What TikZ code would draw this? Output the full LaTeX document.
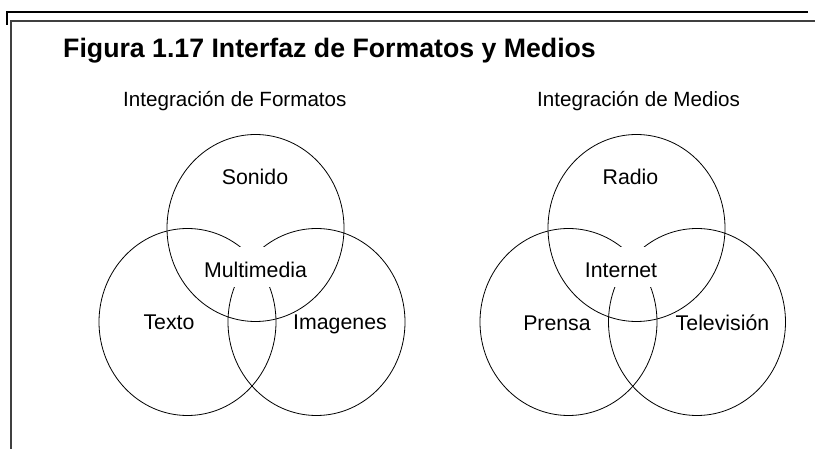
\documentclass[tikz,border=0pt]{standalone}
\usepackage{fontspec}
\setmainfont{Liberation Sans}
\usetikzlibrary{shapes.geometric}
\begin{document}
\begin{tikzpicture}[x=1pt,y=-1pt,
  venn/.style={draw=black,line width=0.8pt,ellipse,minimum width=177pt,minimum height=187pt,inner sep=0pt},
  lbl/.style={inner sep=0pt,anchor=base,font=\fontsize{21.3}{25}\selectfont},
  boxlbl/.style={lbl,fill=white,text height=31pt,text depth=9pt,inner xsep=10pt},
  sub/.style={inner sep=0pt,anchor=base west,font=\fontsize{20.6}{24}\selectfont},
  frameA/.style={line width=2pt,black},
  frameB/.style={line width=2pt,black!75}]
\useasboundingbox (0,0) rectangle (815,449);
% frame
\draw[frameA] (7,25) -- (7,12) -- (808,12);
\draw[frameB] (815,21) -- (11,21) -- (11,449);
% title
\node[inner sep=0pt,anchor=base west,font=\fontsize{26.7}{30}\selectfont\bfseries] (title) at (63,58) {Figura 1.17 Interfaz de Formatos y Medios};
\node[sub] (subA) at (123,107) {Integración de Formatos};
\node[sub] (subB) at (537,107) {Integración de Medios};
% left venn
\node[venn] (cS) at (255.5,228) {};
\node[venn] (cT) at (187.5,322) {};
\node[venn] (cI) at (316.5,322) {};
% right venn
\node[venn] (cR) at (636.5,228) {};
\node[venn] (cP) at (568.5,322) {};
\node[venn] (cV) at (697,322) {};
% labels
\node[lbl] (lS) at (255,185) {Sonido};
\node[boxlbl] (lM) at (255.5,278) {Multimedia};
\node[lbl] (lT) at (169,330) {Texto};
\node[lbl] (lI) at (340,330) {Imagenes};
\node[lbl] (lR) at (630.5,185) {Radio};
\node[boxlbl] (lN) at (621,278) {Internet};
\node[lbl] (lP) at (557,331) {Prensa};
\node[lbl] (lV) at (722.5,331) {Televisión};
\end{tikzpicture}
\end{document}
